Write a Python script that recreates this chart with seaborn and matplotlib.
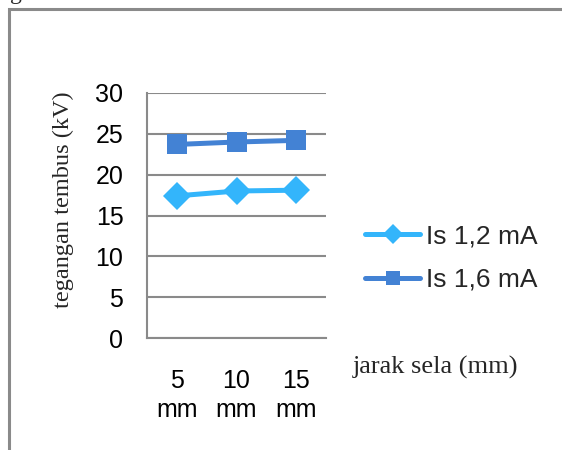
import matplotlib
matplotlib.use("Agg")
import matplotlib.pyplot as plt
import seaborn as sns
import pandas as pd
from matplotlib.patches import Rectangle

# Breakdown voltage vs. gap distance for two current settings
jarak = ["5\nmm", "10\nmm", "15\nmm"]
is_12 = [17.4, 18.0, 18.1]
is_16 = [23.7, 24.0, 24.2]
series_names = ["Is 1,2 mA", "Is 1,6 mA"]
y_ticks = [0, 5, 10, 15, 20, 25, 30]

df = pd.DataFrame({
    "jarak": jarak * 2,
    "tegangan": is_12 + is_16,
    "seri": [series_names[0]] * 3 + [series_names[1]] * 3,
})

sns.set_theme(style="white")
plt.rcParams["font.family"] = ["Liberation Sans", "DejaVu Sans"]

fig = plt.figure(figsize=(5.62, 4.5), dpi=100)
ax = fig.add_axes([147 / 562, 1 - 338 / 450, 179 / 562, 245 / 450])

palette = {series_names[0]: "#33b5fb", series_names[1]: "#4382d4"}
sns.lineplot(data=df, x="jarak", y="tegangan", hue="seri", style="seri",
             markers={series_names[0]: "D", series_names[1]: "s"},
             dashes=False, palette=palette, linewidth=3.6, markersize=14,
             markeredgewidth=0, sort=False, ax=ax, legend=True)

ax.set_ylim(0, 30)
ax.set_xlim(-0.5, 2.5)
ax.set_yticks(y_ticks)
ax.yaxis.grid(True, color="#8a8a8a", linewidth=1.5)
ax.xaxis.grid(False)
for side in ["top", "right"]:
    ax.spines[side].set_visible(False)
for side in ["left", "bottom"]:
    ax.spines[side].set_color("#8a8a8a")
    ax.spines[side].set_linewidth(1.5)
ax.tick_params(axis="y", length=0, pad=17, labelsize=18, colors="black")
ax.tick_params(axis="x", length=0, pad=22, labelsize=18, colors="black")
for lab in ax.get_xticklabels():
    lab.set_linespacing(1.3)

ax.set_xlabel("")
ax.set_ylabel("tegangan tembus (kV)", family="Liberation Serif", fontsize=17.5)
ax.yaxis.set_label_coords(-0.41, 0.563)

handles, labels = ax.get_legend_handles_labels()
ax.legend(handles, labels, loc="center left", bbox_to_anchor=(365 / 562, 1 - 258 / 450),
          bbox_transform=fig.transFigure, frameon=False, fontsize=19,
          handlelength=2.1, handletextpad=0.2, labelspacing=0.75, borderpad=0,
          borderaxespad=0, markerscale=0.7)

fig.text(353 / 562, 1 - 367 / 450, "jarak sela (mm)", family="Liberation Serif",
         fontsize=19, va="center", ha="left")

# Frame of the figure box and the caption line above it
fig.patches.append(Rectangle((9 / 562, -0.1), 1.2, 1 - 9 / 450 + 0.1,
                             transform=fig.transFigure, fill=False,
                             edgecolor="#8a8a8a", linewidth=2.2))
fig.text(10 / 562, 1 + 1 / 450, "gambar berikut ini.", family="Liberation Serif",
         fontsize=17, va="baseline", ha="left")

fig.savefig("out.png", dpi=100)
